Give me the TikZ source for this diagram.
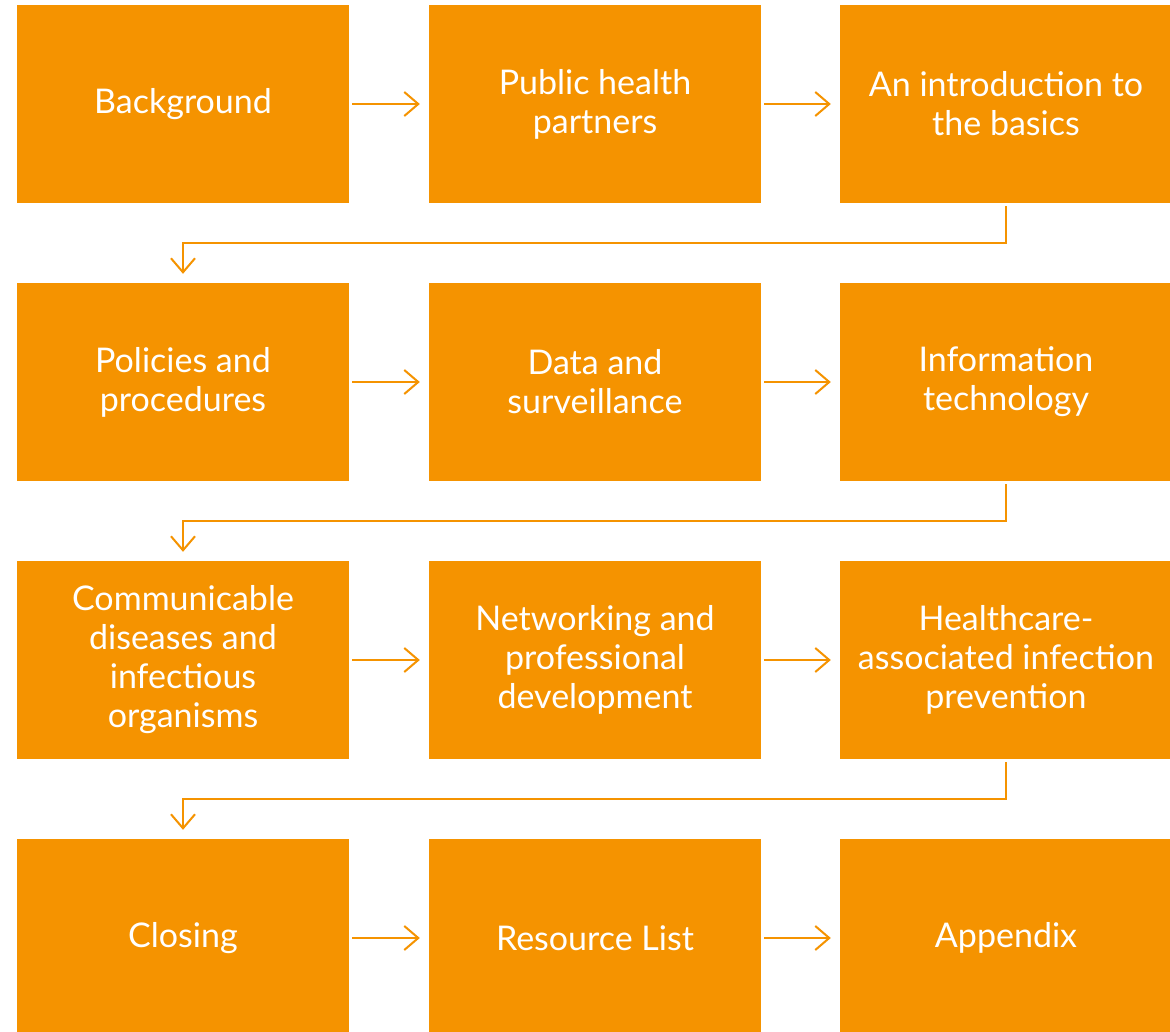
\documentclass[tikz,border=0pt]{standalone}
\usepackage{fontspec}
\setmainfont{Lato}
\usetikzlibrary{arrows.meta}
\definecolor{morange}{RGB}{245,147,0}
\begin{document}
\begin{tikzpicture}[x=1pt, y=-1pt,
                    mbox/.style = {shape = rectangle,
                                   fill = morange,
                                   draw = none,
                                   inner sep = 0pt,
                                   minimum width = 332pt,
                                   minimum height = 198pt,
                                   text = white,
                                   align = center,
                                   font = \fontsize{34}{39}\selectfont},
                    marrow/.style = {draw = morange,
                                     line width = 2pt,
                                     -{Straight Barb[length=14pt, width=24pt, line width=2pt]},
                                     shorten < = 3pt,
                                     shorten > = 9pt}]
		\useasboundingbox (0,0) rectangle (1170,1032);
		\fill[white] (0,0) rectangle (1170,1032);
		% row 1
		\node[mbox] (b1) at (183,104) {Background};
		\node[mbox] (b2) at (595,104) {Public health\\partners};
		\node[mbox] (b3) at (1006,104) {An introduction to\\the basics};
		% row 2
		\node[mbox] (b4) at (183,382) {Policies and\\procedures};
		\node[mbox] (b5) at (595,382) {Data and\\surveillance};
		\node[mbox] (b6) at (1006,382) {Information\\technology};
		% row 3
		\node[mbox] (b7) at (183,660) {Communicable\\diseases and\\infectious\\organisms};
		\node[mbox] (b8) at (595,660) {Networking and\\professional\\development};
		\node[mbox] (b9) at (1006,660) {Healthcare-\\associated infection\\prevention};
		% row 4
		\node[mbox] (b10) at (183,938) {Closing};
		\node[mbox] (b11) at (595,938) {Resource List};
		\node[mbox] (b12) at (1006,938) {Appendix};
		% arrows
		\draw[marrow] (b1) -- (b2);
		\draw[marrow] (b2) -- (b3);
		\draw[marrow] (b4) -- (b5);
		\draw[marrow] (b5) -- (b6);
		\draw[marrow] (b7) -- (b8);
		\draw[marrow] (b8) -- (b9);
		\draw[marrow] (b10) -- (b11);
		\draw[marrow] (b11) -- (b12);
		\draw[marrow] (b3.south) -- ++(0,40) -| (b4.north);
		\draw[marrow] (b6.south) -- ++(0,40) -| (b7.north);
		\draw[marrow] (b9.south) -- ++(0,40) -| (b10.north);
	\end{tikzpicture}
\end{document}
